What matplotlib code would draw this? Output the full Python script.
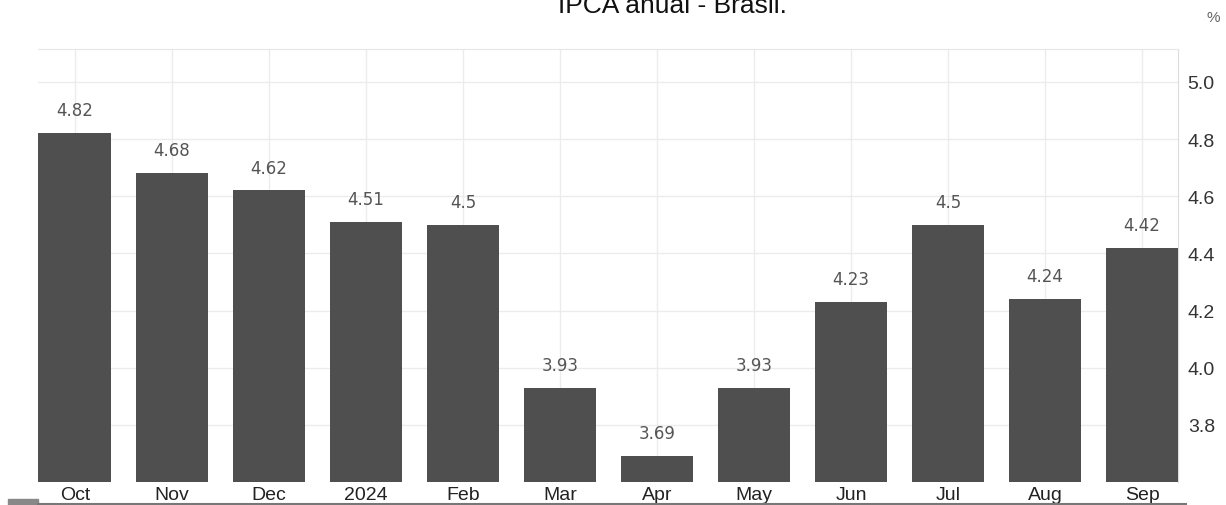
import matplotlib
matplotlib.use('Agg')
import matplotlib.pyplot as plt
from matplotlib.lines import Line2D
from matplotlib.patches import Rectangle

# dados
months = ['Oct', 'Nov', 'Dec', '2024', 'Feb', 'Mar', 'Apr', 'May', 'Jun', 'Jul', 'Aug', 'Sep']
ipca = [4.82, 4.68, 4.62, 4.51, 4.50, 3.93, 3.69, 3.93, 4.23, 4.50, 4.24, 4.42]
value_labels = ['4.82', '4.68', '4.62', '4.51', '4.5', '3.93', '3.69', '3.93', '4.23', '4.5', '4.24', '4.42']
yticks = [3.8, 4.0, 4.2, 4.4, 4.6, 4.8, 5.0]

W, H = 1226, 506
fig = plt.figure(figsize=(W / 100, H / 100), dpi=100)
ax = fig.add_axes([38 / W, 1 - 483 / H, (1178 - 38) / W, (483 - 50) / H])

x = list(range(len(months)))
bars = ax.bar(x, ipca, width=0.75, color='#4f4f4f', zorder=3)

# valores acima das barras
for xi, v, lab in zip(x, ipca, value_labels):
    ax.annotate(lab, (xi, v), xytext=(0, 10), textcoords='offset points',
                ha='center', va='bottom', fontsize=12, color='#555555',
                family='DejaVu Sans')

ax.set_xlim(-0.38, 11.37)
ax.set_ylim(3.60, 5.115)
ax.set_xticks(x)
ax.set_xticklabels(months, family='Liberation Sans', fontsize=14, color='#222222')
ax.set_yticks(yticks)
ax.set_yticklabels([f'{t:.1f}' for t in yticks], family='Liberation Sans',
                   fontsize=14, color='#333333')
ax.yaxis.tick_right()
ax.tick_params(axis='both', length=0)
ax.tick_params(axis='x', pad=3)
ax.tick_params(axis='y', pad=7)

ax.grid(True, color='#ececec', linewidth=1, zorder=0)
for s in ['left', 'bottom']:
    ax.spines[s].set_visible(False)
ax.spines['top'].set_color('#e6e6e6')
ax.spines['right'].set_color('#dcdcdc')

# título (cortado no topo, como na captura)
fig.text(672 / W, 1 - 13 / H, 'IPCA anual - Brasil.', ha='center', va='baseline',
         family='Liberation Sans', fontsize=19, color='#111111')
fig.text(1213 / W, 1 - 18 / H, '%', ha='center', va='center',
         family='Liberation Sans', fontsize=11, color='#666666')

# barra inferior da captura
fig.add_artist(Line2D([38 / W, 1186 / W], [1 - 505 / H, 1 - 505 / H],
                      transform=fig.transFigure, color='#777777', linewidth=1.5))
fig.add_artist(Rectangle((8 / W, 0), 30 / W, 6 / H, transform=fig.transFigure,
                         color='#888888'))

fig.savefig('out.png', dpi=100)
plt.close(fig)
